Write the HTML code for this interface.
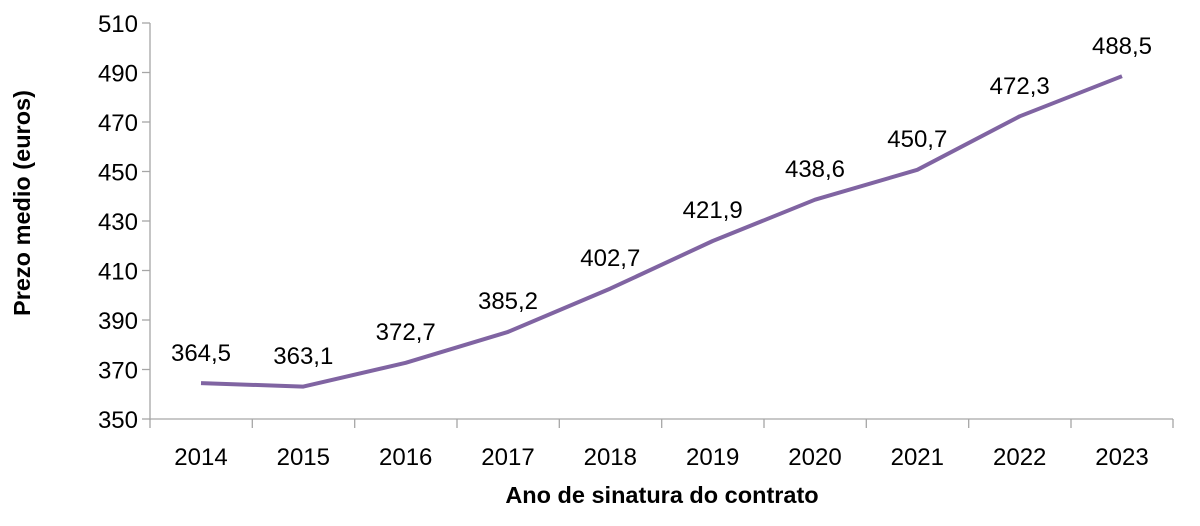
<!DOCTYPE html>
<html><head><style>body{margin:0;background:#fff}</style></head><body>
<svg width="1200" height="521" xmlns="http://www.w3.org/2000/svg" font-family="Liberation Sans, sans-serif">
<g stroke="#a6a6a6" stroke-width="1.3">
<line x1="150" y1="23" x2="150" y2="420"/>
<line x1="150" y1="419" x2="1173" y2="419"/>
<line x1="142" y1="23" x2="150" y2="23"/><line x1="142" y1="72.5" x2="150" y2="72.5"/><line x1="142" y1="122" x2="150" y2="122"/><line x1="142" y1="171.5" x2="150" y2="171.5"/><line x1="142" y1="221" x2="150" y2="221"/><line x1="142" y1="270.5" x2="150" y2="270.5"/><line x1="142" y1="320" x2="150" y2="320"/><line x1="142" y1="369.5" x2="150" y2="369.5"/><line x1="142" y1="419" x2="150" y2="419"/>
<line x1="150" y1="419" x2="150" y2="428"/><line x1="252.3" y1="419" x2="252.3" y2="428"/><line x1="354.7" y1="419" x2="354.7" y2="428"/><line x1="457" y1="419" x2="457" y2="428"/><line x1="559.3" y1="419" x2="559.3" y2="428"/><line x1="661.7" y1="419" x2="661.7" y2="428"/><line x1="764" y1="419" x2="764" y2="428"/><line x1="866.3" y1="419" x2="866.3" y2="428"/><line x1="968.7" y1="419" x2="968.7" y2="428"/><line x1="1071" y1="419" x2="1071" y2="428"/><line x1="1173" y1="419" x2="1173" y2="428"/>
</g>
<g font-size="24" text-anchor="end" fill="#000">
<text x="138" y="32">510</text><text x="138" y="81.5">490</text><text x="138" y="131">470</text><text x="138" y="180.5">450</text><text x="138" y="230">430</text><text x="138" y="279.5">410</text><text x="138" y="329">390</text><text x="138" y="378.5">370</text><text x="138" y="428">350</text>
</g>
<g font-size="24" text-anchor="middle" fill="#000">
<text x="201" y="465">2014</text><text x="303.3" y="465">2015</text><text x="405.7" y="465">2016</text><text x="508" y="465">2017</text><text x="610.3" y="465">2018</text><text x="712.7" y="465">2019</text><text x="815" y="465">2020</text><text x="917.3" y="465">2021</text><text x="1019.7" y="465">2022</text><text x="1122" y="465">2023</text>
</g>
<polyline fill="none" stroke="#8064a2" stroke-width="4" stroke-linejoin="round" points="201,383.1 303.3,386.6 405.7,362.8 508,331.9 610.3,288.6 712.7,241 815,199.7 917.3,169.8 1019.7,116.3 1122,76.2"/>
<g font-size="24" text-anchor="middle" fill="#000">
<text x="201" y="361">364,5</text><text x="303.3" y="364">363,1</text><text x="405.7" y="340">372,7</text><text x="508" y="309">385,2</text><text x="610.3" y="266">402,7</text><text x="712.7" y="218">421,9</text><text x="815" y="177">438,6</text><text x="917.3" y="147">450,7</text><text x="1019.7" y="94">472,3</text><text x="1122" y="54">488,5</text>
</g>
<text x="662" y="503" font-size="23.5" font-weight="bold" text-anchor="middle">Ano de sinatura do contrato</text>
<text transform="translate(30,203) rotate(-90)" font-size="23.5" font-weight="bold" text-anchor="middle">Prezo medio (euros)</text>
</svg>
</body></html>
